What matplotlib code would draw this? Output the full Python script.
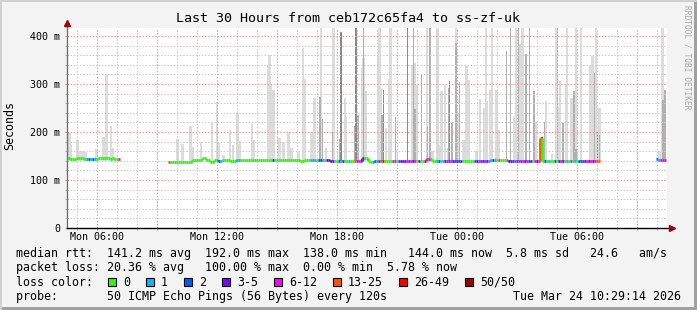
import numpy as np
import matplotlib
matplotlib.use("Agg")
import matplotlib.pyplot as plt
from matplotlib.collections import LineCollection
from matplotlib.patches import Rectangle

# time axis = hours since Mon 00:00, window is last 30 h ending Tue 10:29
t_start = 4.483
t_end = 34.483
step = 0.1  # one median sample every 6 minutes

# median rtt in ms, three stretches of data with gaps between
seg1_t0 = 4.5
seg1_median = [146, 146, 143, 143, 143, 146, 146, 146, 146, 143,
               143, 143, 143, 143, 143, 143, 146, 146, 146, 146,
               146, 146, 143, 146, 143, 143, 143]
seg1_loss = "000000000012121000000000004"

seg2_t0 = 9.6
seg2_median = [
    138, 138, 138, 138, 138, 138, 138, 138, 138, 138,
    138, 138, 142, 142, 142, 142, 142, 146, 146, 142,
    142, 138, 138, 142, 142, 140, 140, 142, 142, 142,
    142, 139, 139, 139, 142, 142, 142, 142, 142, 142,
    142, 142, 142, 142, 142, 142, 142, 142, 142, 142,
    142, 142, 142, 142, 142, 142, 142, 142, 142, 142,
    142, 142, 142, 142, 142, 142, 140, 140, 142, 142,
    141, 141, 141, 141, 141, 141, 141, 141, 141, 141,
    141, 140, 140, 140, 140, 140, 140, 140, 140, 140,
    140, 140, 140, 140, 140, 140, 140, 146, 146, 146,
    140, 137, 137, 140, 140, 140, 140, 140, 140, 140,
    140, 140, 140, 140, 140, 140, 140, 140, 140, 140,
    140, 140, 140, 140, 140, 140, 140, 140, 140, 143,
    143, 143, 139, 139, 139, 139, 139, 139, 139, 139,
    139, 139, 139, 139, 139, 139, 139, 139, 139, 139,
    139, 139, 139, 139, 139, 139, 139, 139, 139, 139,
    139, 141, 141, 141, 141, 141, 141, 141, 141, 141,
    139, 139, 139, 139, 139, 139, 139, 139, 139, 139,
    139, 139, 139, 139, 139, 139, 188, 139, 139, 139,
    139, 139, 139, 139, 139, 139, 139, 139, 139, 139,
    139, 139, 139, 139, 139, 139, 139, 139, 139, 139,
    139, 139, 139, 139, 139, 139,
]
seg2_loss = ("5000000000" "0000000000" "0000021000" "0000110000"
             "0000000000" "0020000000" "0000000000" "0111022103"
             "3330021300" "1005442300" "0002125600" "0044023334"
             "2434030034" "4000120134" "2432323000" "0002342343"
             "1121050000" "3324242434" "2304345020" "1002034301"
             "0401022234" "343455")

seg3_t0 = 34.0
seg3_median = [143, 142, 142, 142, 142]
seg3_loss = "21444"

# smoke: (time h, top ms) per shade
smoke_light = [
    (4.5, 173), (4.6, 197), (4.65, 173), (5.0, 183), (5.15, 160), (5.3, 160),
    (5.4, 158), (5.95, 165), (6.3, 190), (6.45, 320), (6.68, 213), (6.78, 166),
    (10.0, 186), (10.25, 175), (10.65, 212), (10.75, 168),
    (11.18, 180), (11.72, 220), (11.97, 263), (12.05, 177), (12.3, 152),
    (12.63, 204), (12.78, 173), (13.0, 239), (13.1, 181), (13.73, 216),
    (13.84, 183), (14.52, 340), (14.6, 360), (14.69, 301), (14.8, 287),
    (15.1, 188), (15.3, 179), (15.55, 199), (15.7, 167), (16.05, 158),
    (16.27, 374), (16.35, 311), (16.7, 200), (16.86, 270), (17.18, 417),
    (17.42, 167), (17.8, 417), (17.83, 290), (18.38, 270), (18.43, 232),
    (19.22, 333), (19.3, 354), (19.42, 285), (20.06, 360), (20.1, 417),
    (20.15, 292), (20.42, 208), (20.58, 311), (20.66, 417), (21.72, 340),
    (21.88, 343), (21.96, 298), (22.47, 417), (22.76, 160), (22.98, 210),
    (23.0, 417), (23.1, 173), (23.2, 285), (23.38, 298), (23.52, 167),
    (23.93, 417), (24.0, 239), (24.3, 183), (24.45, 338), (24.57, 308),
    (24.95, 160), (25.12, 268), (25.36, 250), (25.43, 417), (25.47, 264),
    (25.65, 287), (25.73, 417), (25.95, 287), (26.05, 204), (26.84, 232),
    (26.92, 417), (27.12, 383), (27.26, 417), (27.94, 220), (28.42, 265),
    (28.74, 155), (28.92, 417), (29.07, 252), (29.14, 306), (29.45, 301),
    (29.47, 417), (29.71, 270), (29.93, 417), (30.18, 417), (30.65, 340),
    (30.75, 358), (30.92, 417), (31.1, 250),
    (34.1, 160), (34.25, 417),
]
smoke_mid = [
    (17.13, 273), (17.26, 228), (17.75, 200), (18.13, 186), (18.88, 212),
    (19.03, 235), (19.3, 417), (20.22, 235), (20.9, 232), (21.8, 417),
    (21.88, 248), (22.2, 319), (22.5, 210), (22.63, 417), (23.57, 292),
    (23.72, 218), (23.92, 385), (24.11, 305), (26.46, 368), (26.66, 417),
    (27.05, 417), (27.43, 363), (27.6, 417), (27.84, 285), (28.36, 220),
    (29.01, 417), (29.28, 218), (29.82, 285), (29.92, 165), (30.86, 322),
    (31.1, 194), (34.27, 266), (34.38, 287),
]
smoke_dark = [
    (18.18, 409), (18.93, 417), (20.32, 287), (21.52, 417), (23.62, 306),
    (31.01, 200),
]
smoke_black = [(28.22, 190)]
smoke_floor = 140

loss_colors = ["#26ff00", "#00b8ff", "#0059ff", "#7e00ff",
               "#ff00ff", "#ff5500", "#ff0000", "#a00000"]
loss_labels = ["0", "1", "2", "3-5", "6-12", "13-25", "26-49", "50/50"]

x_ticks = [6, 12, 18, 24, 30]
x_labels = ["Mon 06:00", "Mon 12:00", "Mon 18:00", "Tue 00:00", "Tue 06:00"]
y_ticks = [0, 100, 200, 300, 400]
y_labels = ["0", "100 m", "200 m", "300 m", "400 m"]

title = "Last 30 Hours from ceb172c65fa4 to ss-zf-uk"
stat_lines = [
    "median rtt:  141.2 ms avg  192.0 ms max  138.0 ms min   144.0 ms now  5.8 ms sd   24.6   am/s",
    "packet loss: 20.36 % avg   100.00 % max  0.00 % min  5.78 % now",
]
probe_text = "probe:       50 ICMP Echo Pings (56 Bytes) every 120s"
stamp = "Tue Mar 24 10:29:14 2026"

W, H = 697, 310
mono = "DejaVu Sans Mono"


def fx(x):
    return x / W


def fy(y):
    return 1 - y / H


fig = plt.figure(figsize=(W / 100, H / 100), dpi=100, facecolor="#f3f3f3")
ax = fig.add_axes([fx(67), fy(228), 600 / W, 200 / H])
ax.set_facecolor("white")
ax.set_xlim(t_start, t_end)
ax.set_ylim(0, 416.7)

# smoke
for data, col, w in [(smoke_light, "#dcdcdc", 0.12), (smoke_mid, "#b0b0b0", 0.08),
                     (smoke_dark, "#8a8a8a", 0.07), (smoke_black, "#303030", 0.12)]:
    tt = [d[0] for d in data]
    hh = [d[1] - smoke_floor for d in data]
    ax.bar(tt, hh, bottom=smoke_floor, width=w, color=col, linewidth=0, zorder=1)

# grid on top of the smoke, like rrdtool
for h in range(5, 35):
    if h % 3 == 0:
        ax.axvline(h, color="#f2a0a0", lw=0.75, ls=(0, (1.5, 1.5)), zorder=2)
    else:
        ax.axvline(h, color="#cfcfcf", lw=0.75, ls=(0, (1.5, 1.5)), zorder=2)
for v in range(20, 420, 20):
    if v % 100 == 0:
        ax.axhline(v, color="#f2a0a0", lw=0.75, ls=(0, (1.5, 1.5)), zorder=2)
    else:
        ax.axhline(v, color="#cfcfcf", lw=0.75, ls=(0, (1.5, 1.5)), zorder=2)

# median line coloured by packet loss
for t0, med, loss in [(seg1_t0, seg1_median, seg1_loss),
                      (seg2_t0, seg2_median, seg2_loss),
                      (seg3_t0, seg3_median, seg3_loss)]:
    tt = t0 + step * np.arange(len(med))
    segs, cols = [], []
    for i in range(len(med)):
        c = loss_colors[int(loss[i])]
        segs.append([(tt[i] - step / 2, med[i]), (tt[i] + step / 2, med[i])])
        cols.append(c)
        if i > 0 and med[i] != med[i - 1]:
            segs.append([(tt[i] - step / 2, med[i - 1]), (tt[i] - step / 2, med[i])])
            cols.append(c)
    ax.add_collection(LineCollection(segs, colors=cols, linewidths=2.0, zorder=3,
                                     capstyle="butt"))

# axes
for s in ["top", "right", "bottom", "left"]:
    ax.spines[s].set_visible(False)
ax.plot([0, 0], [0, 1.02], transform=ax.transAxes, color="#707070", lw=1.0,
        clip_on=False, zorder=4)
ax.plot([0, 1.005], [0, 0], transform=ax.transAxes, color="black", lw=1.0,
        clip_on=False, zorder=4)
ax.plot([0], [1.025], marker="^", color="#a00000", ms=4, transform=ax.transAxes,
        clip_on=False, zorder=5)
ax.plot([1.008], [0], marker=">", color="#a00000", ms=4, transform=ax.transAxes,
        clip_on=False, zorder=5)

ax.set_xticks(x_ticks)
ax.set_xticklabels(x_labels, fontfamily=mono, fontsize=7.2)
ax.set_xticks(range(5, 35), minor=True)
ax.set_yticks(y_ticks)
ax.set_yticklabels(y_labels, fontfamily=mono, fontsize=7.2)
ax.set_yticks(range(20, 420, 20), minor=True)
ax.tick_params(axis="x", which="major", length=1.5, width=0.7, color="#e08080", pad=1.5)
ax.tick_params(axis="x", which="minor", length=1.5, width=0.7, color="#b0b0b0")
ax.tick_params(axis="y", which="major", length=1.5, width=0.7, color="#e08080", pad=3.5)
ax.tick_params(axis="y", which="minor", length=1.5, width=0.7, color="#b0b0b0")

# texts
fig.text(fx(348), fy(19), title, ha="center", va="center", fontfamily=mono,
         fontsize=9.6)
fig.text(fx(10), fy(126), "Seconds", ha="center", va="center", rotation=90,
         fontfamily=mono, fontsize=8.4)
fig.text(fx(687), fy(57), "RRDTOOL / TOBI OETIKER", ha="center", va="center",
         rotation=270, fontfamily=mono, fontsize=5.7, color="#a8a8a8")

fig.text(fx(16), fy(254), stat_lines[0], ha="left", va="center", fontfamily=mono,
         fontsize=8.4)
fig.text(fx(16), fy(268), stat_lines[1], ha="left", va="center", fontfamily=mono,
         fontsize=8.4)
fig.text(fx(16), fy(282), "loss color:", ha="left", va="center", fontfamily=mono,
         fontsize=8.4)
xb = 108
for lab, col in zip(loss_labels, loss_colors):
    fig.patches.append(Rectangle((fx(xb), fy(286)), 8 / W, 8 / H, facecolor=col,
                                 edgecolor="black", lw=0.8, transform=fig.transFigure))
    fig.text(fx(xb + 15), fy(282), lab, ha="left", va="center", fontfamily=mono,
             fontsize=8.4)
    xb = xb + 15 + 7 * len(lab) + 16
fig.text(fx(16), fy(296.5), probe_text, ha="left", va="center", fontfamily=mono,
         fontsize=8.4)
fig.text(fx(681), fy(296.5), stamp, ha="right", va="center", fontfamily=mono,
         fontsize=8.4)

# frame around the image
fig.patches.append(Rectangle((fx(693.5), 0), 3.5 / W, 1, facecolor="#a0a0a0",
                             lw=0, transform=fig.transFigure))
fig.patches.append(Rectangle((0, 0), 1, 3 / H, facecolor="#a0a0a0",
                             lw=0, transform=fig.transFigure))
fig.patches.append(Rectangle((0, 0), 2 / W, 1, facecolor="#d0d0d0",
                             lw=0, transform=fig.transFigure))
fig.patches.append(Rectangle((0, fy(2)), 1, 2 / H, facecolor="#d0d0d0",
                             lw=0, transform=fig.transFigure))

fig.savefig("out.png", dpi=100, facecolor=fig.get_facecolor())
